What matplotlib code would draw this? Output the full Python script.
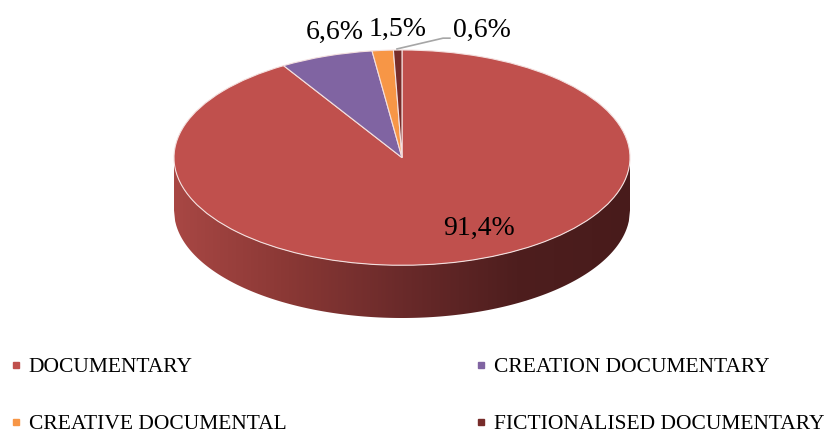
import numpy as np
import matplotlib
matplotlib.use("Agg")
import matplotlib.pyplot as plt
from matplotlib.colors import LinearSegmentedColormap
from matplotlib.lines import Line2D
from matplotlib.patches import Polygon

# data
categories = ['DOCUMENTARY', 'CREATION DOCUMENTARY', 'CREATIVE DOCUMENTAL',
              'FICTIONALISED DOCUMENTARY']
shares = [91.4, 6.6, 1.5, 0.6]
colors = ['#C0504D', '#8064A2', '#F79646', '#772C2A']

# label spots (pie axes coords)
label_xy = [(0.338, -0.655), (-0.294, 1.16), (-0.018, 1.195), (0.351, 1.185)]

plt.rcParams['font.family'] = ['Liberation Serif', 'DejaVu Serif']

depth = 0.49  # thickness of the disc, in units of the y radius

fig = plt.figure(figsize=(8.34, 4.34), dpi=100)
ax = fig.add_axes([174 / 834, 1 - 318 / 434, 456 / 834, 268 / 434])

# side of the disc: gradient clipped to the rim band
xs = np.linspace(-1, 1, 400)
lower = -np.sqrt(np.clip(1 - xs ** 2, 0, None))
rim = np.concatenate([np.column_stack([xs, lower]),
                      np.column_stack([xs[::-1], lower[::-1] - depth])])
rim_patch = Polygon(rim, closed=True, facecolor='none', edgecolor='none')
ax.add_patch(rim_patch)
side_cmap = LinearSegmentedColormap.from_list(
    'side', ['#A84744', '#8A3835', '#6A2A2A', '#4E1E1E', '#481B1B'])
grad = np.linspace(0, 1, 256).reshape(1, -1)
im = ax.imshow(grad, cmap=side_cmap, aspect='auto',
               extent=(-1, 1, -1 - depth, 0), zorder=0)
im.set_clip_path(rim_patch)

# top face
wedges, _ = ax.pie(shares, colors=colors, startangle=90, counterclock=False,
                   radius=1,
                   wedgeprops=dict(edgecolor='#F4E0DF', linewidth=0.8))
for w in wedges:
    w.set_zorder(2)
ax.set_aspect('auto')
ax.set_xlim(-1, 1)
ax.set_ylim(-1 - depth, 1)
ax.axis('off')

# percent labels
for v, (lx, ly) in zip(shares, label_xy):
    txt = '{:.1f}%'.format(v).replace('.', ',')
    ax.text(lx, ly, txt, ha='center', va='center', fontsize=20, color='black',
            zorder=5)

# leader line for the smallest slice
ax.plot([-0.022, 0.18, 0.21], [1.01, 1.11, 1.11], color='#A6A6A6',
        linewidth=1.2, clip_on=False, zorder=4)

# legend, row-wise order
order = [0, 2, 1, 3]
handles = [Line2D([], [], linestyle='none', marker='s', markersize=4.5,
                  markerfacecolor=colors[i], markeredgecolor=colors[i])
           for i in order]
labels = [categories[i] for i in order]
fig.legend(handles, labels, loc='upper left', bbox_to_anchor=(9.5 / 834, 1 - 357 / 434),
           ncol=2, frameon=False, fontsize=15.5, handlelength=0.6,
           handletextpad=0.3, columnspacing=8.75, labelspacing=1.72,
           borderpad=0, borderaxespad=0)

fig.savefig('out.png', dpi=100)
